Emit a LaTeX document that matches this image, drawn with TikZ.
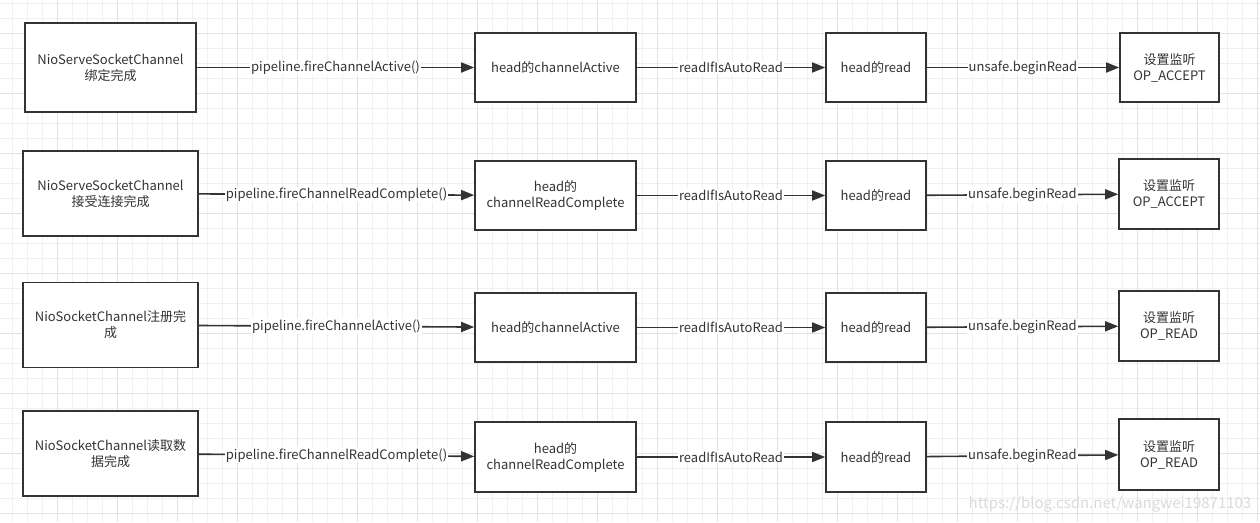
\documentclass[tikz,border=0pt]{standalone}
\usepackage{fontspec}
\setmainfont{Noto Sans CJK SC}
\usetikzlibrary{arrows.meta}
\definecolor{ink}{HTML}{333333}
\definecolor{gridminor}{HTML}{F0F0F0}
\definecolor{gridmajor}{HTML}{E2E2E2}
\definecolor{mark}{HTML}{DADADA}
\begin{document}
\begin{tikzpicture}[x=1pt,y=-1pt,>={Triangle[length=13pt,width=10pt]},
  font=\fontsize{13}{16}\selectfont,
  box/.style={draw=ink,line width=1.6pt,fill=white,text=ink,align=center,inner sep=2pt},
  flow/.style={->,draw=ink,line width=1.6pt},
  lbl/.style={fill=white,text=ink,inner sep=1pt}]
\useasboundingbox (0,0) rectangle (1260,522);
\fill[white] (0,0) rectangle (1260,522);
% grid
\foreach \x in {12,27,...,1257} \draw[gridminor,line width=1pt] (\x,0)--(\x,522);
\foreach \y in {3,18,...,518} \draw[gridminor,line width=1pt] (0,\y)--(1260,\y);
\foreach \x in {57,117,...,1257} \draw[gridmajor,line width=1pt] (\x,0)--(\x,522);
\foreach \y in {33,93,...,513} \draw[gridmajor,line width=1pt] (0,\y)--(1260,\y);
% row 1
\node[box,minimum width=171,minimum height=89] (src1) at (110.5,67.5)
  {NioServeSocketChannel\\绑定完成};
\node[box,minimum width=161,minimum height=69] (head1) at (555.5,67.5)
  {head的channelActive};
\node[box,minimum width=100,minimum height=69] (read1) at (876,67.5) {head的read};
\node[box,minimum width=99,minimum height=69] (op1) at (1169.5,67.5)
  {设置监听\\OP\_ACCEPT};
\draw[flow] (src1)--node[lbl]{pipeline.fireChannelActive()}(head1);
\draw[flow] (head1)--node[lbl]{readIfIsAutoRead}(read1);
\draw[flow] (read1)--node[lbl]{unsafe.beginRead}(op1);
% row 2
\node[box,minimum width=175,minimum height=85] (src2) at (110.5,193.5)
  {NioServeSocketChannel\\接受连接完成};
\node[box,minimum width=161,minimum height=69] (head2) at (555.5,195.5)
  {head的\\channelReadComplete};
\node[box,minimum width=100,minimum height=69] (read2) at (876,195.5) {head的read};
\node[box,minimum width=100,minimum height=70] (op2) at (1169,194)
  {设置监听\\OP\_ACCEPT};
\draw[flow] (src2)--node[lbl]{pipeline.fireChannelReadComplete()}(head2);
\draw[flow] (head2)--node[lbl]{readIfIsAutoRead}(read2);
\draw[flow] (read2)--node[lbl]{unsafe.beginRead}(op2);
% row 3
\node[box,minimum width=175,minimum height=85] (src3) at (110.5,325)
  {NioSocketChannel注册完\\成};
\node[box,minimum width=161,minimum height=69] (head3) at (555.5,327.5)
  {head的channelActive};
\node[box,minimum width=100,minimum height=69] (read3) at (876,327.5) {head的read};
\node[box,minimum width=100,minimum height=70] (op3) at (1169,326)
  {设置监听\\OP\_READ};
\draw[flow] (src3)--node[lbl]{pipeline.fireChannelActive()}(head3);
\draw[flow] (head3)--node[lbl]{readIfIsAutoRead}(read3);
\draw[flow] (read3)--node[lbl]{unsafe.beginRead}(op3);
% row 4
\node[box,minimum width=175,minimum height=85] (src4) at (110.5,453.5)
  {NioSocketChannel读取数\\据完成};
\node[box,minimum width=161,minimum height=70] (head4) at (555.5,457)
  {head的\\channelReadComplete};
\node[box,minimum width=100,minimum height=70] (read4) at (876,457) {head的read};
\node[box,minimum width=100,minimum height=71] (op4) at (1169,454.5)
  {设置监听\\OP\_READ};
\draw[flow] (src4)--node[lbl]{pipeline.fireChannelReadComplete()}(head4);
\draw[flow] (head4)--node[lbl]{readIfIsAutoRead}(read4);
\draw[flow] (read4)--node[lbl]{unsafe.beginRead}(op4);
% watermark
\node[text=mark,font=\fontsize{15}{16}\selectfont,inner sep=0pt] (wm) at (1110,504)
  {https://blog.csdn.net/wangwei19871103};
\end{tikzpicture}
\end{document}
